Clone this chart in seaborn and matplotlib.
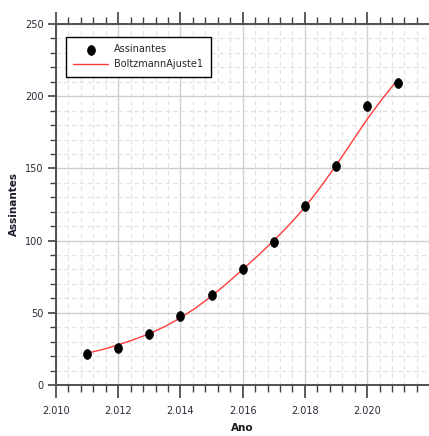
import numpy as np
import pandas as pd
import matplotlib
matplotlib.use('Agg')
import matplotlib.pyplot as plt
import seaborn as sns
from matplotlib.ticker import MultipleLocator, FuncFormatter
from matplotlib.markers import MarkerStyle
from matplotlib.transforms import Affine2D

# dados
anos = [2011, 2012, 2013, 2014, 2015, 2016, 2017, 2018, 2019, 2020, 2021]
assinantes = [21.5, 25.7, 35.5, 48, 62.5, 80, 98.8, 124, 151.4, 193, 209]

# curva de ajuste (Boltzmann), lida ponto a ponto
ajuste_x = [2011, 2011.5, 2012, 2012.5, 2013, 2013.5, 2014, 2014.5, 2015, 2015.5,
            2016, 2016.5, 2017, 2017.5, 2018, 2018.5, 2019, 2019.5, 2020, 2020.5, 2021]
ajuste_y = [22, 24.6, 27.8, 31.4, 35.5, 40.5, 46.5, 53.5, 61.5, 70.5,
            80, 89.8, 100, 111, 123, 137, 152, 168, 184, 198.5, 212]

df = pd.DataFrame({'Ano': anos, 'Assinantes': assinantes})
fit = pd.DataFrame({'Ano': ajuste_x, 'Ajuste': ajuste_y})

sns.set_style('ticks')
plt.rcParams['font.family'] = ['DejaVu Sans']

fig = plt.figure(figsize=(4.29, 4.36), dpi=100)
ax = fig.add_axes([56 / 429, 1 - 385 / 436, 373 / 429, 361 / 436])

oval = MarkerStyle('o', transform=Affine2D().scale(0.8, 1.0))
sns.scatterplot(data=df, x='Ano', y='Assinantes', ax=ax, marker=oval, s=50,
                color='black', edgecolor='black', linewidth=0.5,
                label='Assinantes', zorder=3)
sns.lineplot(data=fit, x='Ano', y='Ajuste', ax=ax, color='#ff3b3b', linewidth=1.0,
             label='BoltzmannAjuste1', zorder=2)

ax.set_xlim(2010, 2021.99)
ax.set_ylim(0, 250)
ax.xaxis.set_major_locator(MultipleLocator(2))
ax.xaxis.set_minor_locator(MultipleLocator(0.4))
ax.yaxis.set_major_locator(MultipleLocator(50))
ax.yaxis.set_minor_locator(MultipleLocator(10))
ax.xaxis.set_major_formatter(FuncFormatter(lambda v, p: f'{v:,.0f}'.replace(',', '.')))

ax.grid(which='major', color='#d0d0d0', linewidth=1.0, linestyle='-')
ax.grid(which='minor', color='#e2e2e2', linewidth=0.8, linestyle=(0, (4, 3)))
ax.set_axisbelow(True)

for s in ['left', 'bottom', 'top']:
    ax.spines[s].set_visible(True)
    ax.spines[s].set_color('#505050')
    ax.spines[s].set_linewidth(1.4)
ax.spines['right'].set_visible(False)

ax.tick_params(axis='x', which='major', direction='out', length=9, width=1.2,
               color='#404040', labelsize=7, labelcolor='#2a2a3a', pad=6,
               top=True, labeltop=False)
ax.tick_params(axis='x', which='minor', direction='out', length=5, width=1.0,
               color='#404040', top=True)
ax.tick_params(axis='y', which='major', direction='out', length=6, width=1.2,
               color='#404040', labelsize=7, labelcolor='#2a2a3a', pad=3)
ax.tick_params(axis='y', which='minor', direction='out', length=4, width=1.0,
               color='#404040')

ax.set_xlabel('Ano', fontsize=7.5, fontweight='bold', color='#1a1a1a', labelpad=5)
ax.set_ylabel('Assinantes', fontsize=7.5, fontweight='bold', color='#1a1a2a', labelpad=4)

leg = ax.legend(loc='upper left', bbox_to_anchor=(0.026, 0.965), fontsize=7,
                frameon=True, fancybox=False, handlelength=3.6,
                borderpad=0.8, labelspacing=0.5, handletextpad=0.6, borderaxespad=0)
leg.get_frame().set_edgecolor('black')
leg.get_frame().set_linewidth(1.0)
leg.get_frame().set_facecolor('white')
leg.get_frame().set_alpha(1)

fig.savefig('out.png', dpi=100)
